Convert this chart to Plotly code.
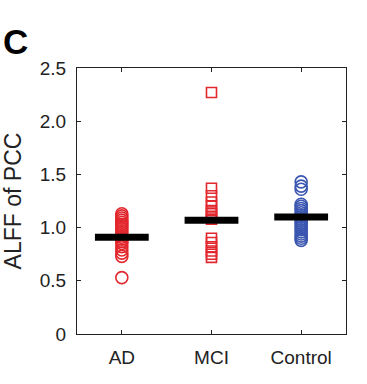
import plotly.graph_objects as go

categories = ["AD", "MCI", "Control"]
ad_values = [1.13, 1.11, 1.09, 1.07, 1.05, 1.03, 1.01, 0.99, 0.97, 0.95,
             0.93, 0.91, 0.89, 0.87, 0.85, 0.82, 0.79, 0.76, 0.73, 0.53]
mci_values = [2.27, 1.37, 1.30, 1.24, 1.20, 1.16, 1.13, 1.10, 1.08,
              0.90, 0.86, 0.82, 0.78, 0.75, 0.72]
control_values = [1.43, 1.39, 1.36, 1.22, 1.20, 1.18, 1.16, 1.14, 1.12, 1.10,
                  1.08, 1.06, 1.04, 1.02, 1.00, 0.98, 0.96, 0.94, 0.92, 0.90, 0.88]
group_means = [0.91, 1.07, 1.10]
y_tickvals = [0, 0.5, 1.0, 1.5, 2.0, 2.5]
y_ticktext = ["0", "0.5", "1.0", "1.5", "2.0", "2.5"]

red = "#e2272d"
blue = "#3a56b0"
series = [(ad_values, red, "circle-open"),
          (mci_values, red, "square-open"),
          (control_values, blue, "circle-open")]

fig = go.Figure()
for i, (vals, col, sym) in enumerate(series):
    fig.add_trace(go.Scatter(
        x=[i + 1] * len(vals), y=vals, mode="markers",
        marker=dict(symbol=sym, size=12 if sym == "circle-open" else 10,
                    color=col, line=dict(width=1.6, color=col)),
        showlegend=False, hoverinfo="y"))

for i, m in enumerate(group_means):
    fig.add_trace(go.Scatter(
        x=[i + 1 - 0.3, i + 1 + 0.3], y=[m, m], mode="lines",
        line=dict(color="black", width=7), showlegend=False))

font_family = "Liberation Sans, Arial, sans-serif"
fig.update_layout(
    width=367, height=384,
    margin=dict(l=77, r=21, t=68, b=50, autoexpand=False),
    paper_bgcolor="white", plot_bgcolor="white",
    font=dict(family=font_family, size=19, color="#222"),
    xaxis=dict(range=[0.5, 3.5], tickvals=[1, 2, 3], ticktext=categories,
               showgrid=False, zeroline=False, showline=True, linecolor="#222",
               linewidth=1.2, mirror="ticks", ticks="inside", ticklen=4,
               tickcolor="#222", ticklabelstandoff=6, automargin=False),
    yaxis=dict(range=[0, 2.5], tickvals=y_tickvals, ticktext=y_ticktext,
               showgrid=False, zeroline=False, showline=True, linecolor="#222",
               linewidth=1.2, mirror="ticks", ticks="inside", ticklen=4,
               tickcolor="#222", ticklabelstandoff=6, automargin=False,
               title=dict(text="ALFF of PCC", standoff=11)),
)
fig.add_annotation(text="<b>C</b>", xref="paper", yref="paper",
                   x=-0.283, y=1.1, xanchor="left", yanchor="middle",
                   showarrow=False, font=dict(size=35, color="black", family=font_family))

fig.write_html("out.html", config={"displayModeBar": False},
               post_script="document.body.style.margin='0';")
